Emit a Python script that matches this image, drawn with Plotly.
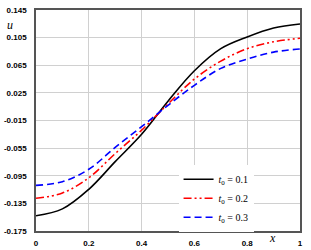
import plotly.graph_objects as go

x = [0, 0.1, 0.2, 0.3, 0.4, 0.5, 0.6, 0.7, 0.8, 0.9, 1.0]
u_t01 = [-0.153, -0.143, -0.1146, -0.0746, -0.035, 0.013, 0.057, 0.089, 0.106, 0.119, 0.1247]
u_t02 = [-0.1277, -0.120, -0.098, -0.063, -0.029, 0.009, 0.045, 0.071, 0.089, 0.099, 0.104]
u_t03 = [-0.109, -0.1036, -0.0856, -0.054, -0.024, 0.007, 0.036, 0.0605, 0.074, 0.084, 0.0886]
names = ["<i>t</i><sub>0</sub> = 0.1", "<i>t</i><sub>0</sub> = 0.2", "<i>t</i><sub>0</sub> = 0.3"]

ytickvals = [0.145, 0.105, 0.065, 0.025, -0.015, -0.055, -0.095, -0.135, -0.175]
yticktext = ["0.145", "0.105", "0.065", "0.025", "-0.015", "-0.055", "-0.095", "-0.135", "-0.175"]
xtickvals = [0, 0.2, 0.4, 0.6, 0.8, 1.0]
xticktext = ["0", "0.2", "0.4", "0.6", "0.8", "1"]

fig = go.Figure()
styles = [("black", "solid"), ("red", "8px,3px,2px,3px,2px,3px"), ("blue", "7px,4px")]
for ys, nm, (c, d) in zip([u_t01, u_t02, u_t03], names, styles):
    fig.add_trace(go.Scatter(x=x, y=ys, mode="lines", name=nm,
                             line=dict(color=c, width=1.6, dash=d, shape="spline")))

axis_common = dict(showgrid=True, gridcolor="#d0d0d0", gridwidth=1,
                   showline=True, linecolor="#555555", linewidth=1.5, mirror=True,
                   zeroline=False, ticks="", automargin=False,
                   tickfont=dict(family="Arial", size=8, color="black", weight="bold"))
fig.update_xaxes(range=[0, 1], tickvals=xtickvals, ticktext=xticktext,
                 ticklabelstandoff=4, **axis_common)
fig.update_yaxes(range=[-0.175, 0.145], tickvals=ytickvals, ticktext=yticktext,
                 ticklabelstandoff=6, **axis_common)

fig.update_layout(
    width=311, height=250,
    margin=dict(l=36, r=11, t=10, b=19),
    paper_bgcolor="white", plot_bgcolor="white",
    font=dict(family="Arial", size=8, color="black"),
    legend=dict(x=0.54, y=0.30, xanchor="left", yanchor="top",
                bgcolor="white", borderwidth=0,
                font=dict(family="Liberation Serif", size=10, color="black"),
                tracegroupgap=0),
    showlegend=True,
    annotations=[
        dict(text="<i>u</i>", x=-0.1, y=0.93, xref="paper", yref="paper",
             xanchor="center", yanchor="middle",
             showarrow=False, font=dict(family="Liberation Serif", size=12)),
        dict(text="<i>x</i>", x=0.895, y=-0.03, xref="paper", yref="paper",
             xanchor="center", yanchor="middle",
             showarrow=False, font=dict(family="Liberation Serif", size=12)),
    ],
)
fig.write_html("out.html")
